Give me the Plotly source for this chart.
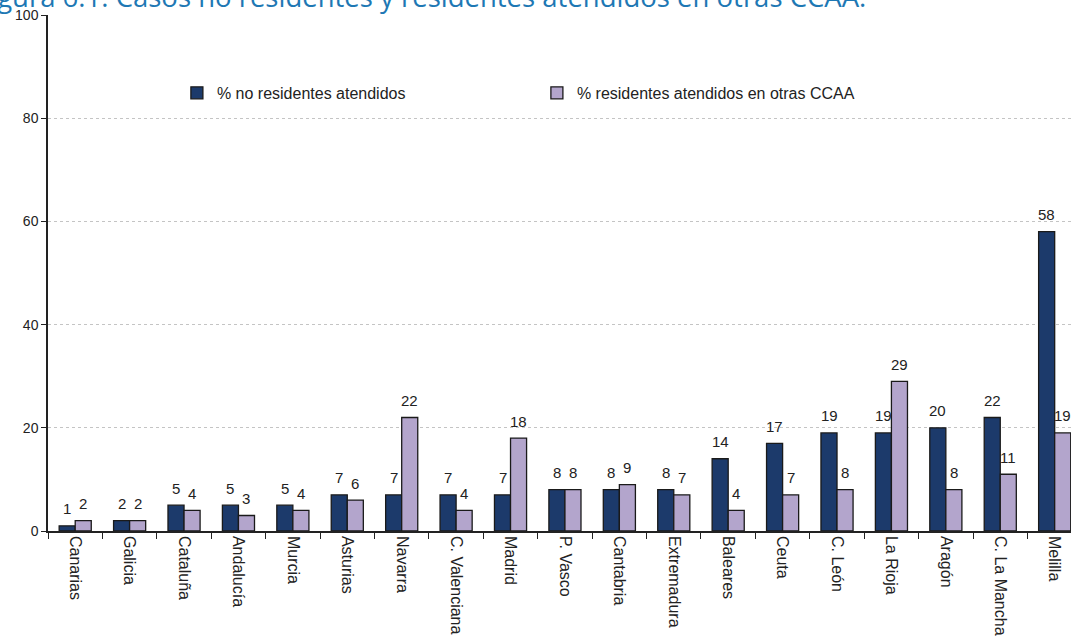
import plotly.graph_objects as go

# data
regiones = ['Canarias', 'Galicia', 'Cataluña', 'Andalucía', 'Murcia', 'Asturias',
            'Navarra', 'C. Valenciana', 'Madrid', 'P. Vasco', 'Cantabria',
            'Extremadura', 'Baleares', 'Ceuta', 'C. León', 'La Rioja', 'Aragón',
            'C. La Mancha', 'Melilla']
no_residentes = [1, 2, 5, 5, 5, 7, 7, 7, 7, 8, 8, 8, 14, 17, 19, 19, 20, 22, 58]
residentes_otras = [2, 2, 4, 3, 4, 6, 22, 4, 18, 8, 9, 7, 4, 7, 8, 29, 8, 11, 19]
y_ticks = [0, 20, 40, 60, 80, 100]

FONT = 'Arial, Liberation Sans, sans-serif'
TXT = '#222222'

fig = go.Figure()

fig.add_trace(go.Bar(
    x=regiones, y=no_residentes, name='% no residentes atendidos',
    marker=dict(color='#1C3A6B', line=dict(color='#1a1a1a', width=1.3))))

fig.add_trace(go.Bar(
    x=regiones, y=residentes_otras, name='% residentes atendidos en otras CCAA',
    marker=dict(color='#B3A5CC', line=dict(color='#1a1a1a', width=1.3))))

# value labels sit a bit higher above the bars than plotly's own outside text
for serie, shift in ((no_residentes, -8), (residentes_otras, 8)):
    for reg, val in zip(regiones, serie):
        fig.add_annotation(x=reg, y=val, text=str(val), showarrow=False,
                           xshift=shift, yshift=17, yanchor='middle',
                           font=dict(family=FONT, size=15, color=TXT))

# title is cut off by the top edge in the reference
fig.add_annotation(
    text='Figura 6.1. Casos no residentes y residentes atendidos en otras CCAA.',
    xref='paper', yref='paper', x=-0.072, y=0.996,
    xanchor='left', yanchor='bottom', showarrow=False,
    font=dict(family='Open Sans, sans-serif', size=27.5, color='#1E78B4'))

fig.update_layout(
    width=1071, height=644,
    margin=dict(l=48, r=0, t=15, b=113, autoexpand=False),
    paper_bgcolor='white', plot_bgcolor='white',
    barmode='group', bargap=0.41, bargroupgap=0,
    font=dict(family=FONT, size=14, color=TXT),
    showlegend=True,
    legend=dict(orientation='h', x=0.126, y=0.849, xanchor='left', yanchor='middle',
                entrywidth=315, entrywidthmode='pixels',
                font=dict(family=FONT, size=16, color=TXT),
                itemwidth=30, traceorder='normal'),
)

fig.update_xaxes(
    type='category', range=[-0.5, 18.3], automargin=False,
    showline=True, linecolor=TXT, linewidth=1.5,
    ticks='outside', tickson='boundaries', ticklen=6, tickcolor=TXT,
    tickangle=90, tickfont=dict(family=FONT, size=16, color=TXT),
    showgrid=False)

fig.update_yaxes(
    range=[0, 100], tickvals=y_ticks, automargin=False,
    showline=True, linecolor=TXT, linewidth=1.5,
    ticks='outside', ticklen=5, tickcolor=TXT,
    tickfont=dict(family=FONT, size=14, color=TXT),
    showgrid=True, gridcolor='#C4C4C4', griddash='3px,3px', gridwidth=1,
    zeroline=False)

# drop the browser's default 8px body margin so the figure sits at the corner
fig.write_html('out.html', config={'displayModeBar': False},
               post_script="document.body.style.margin='0';")
